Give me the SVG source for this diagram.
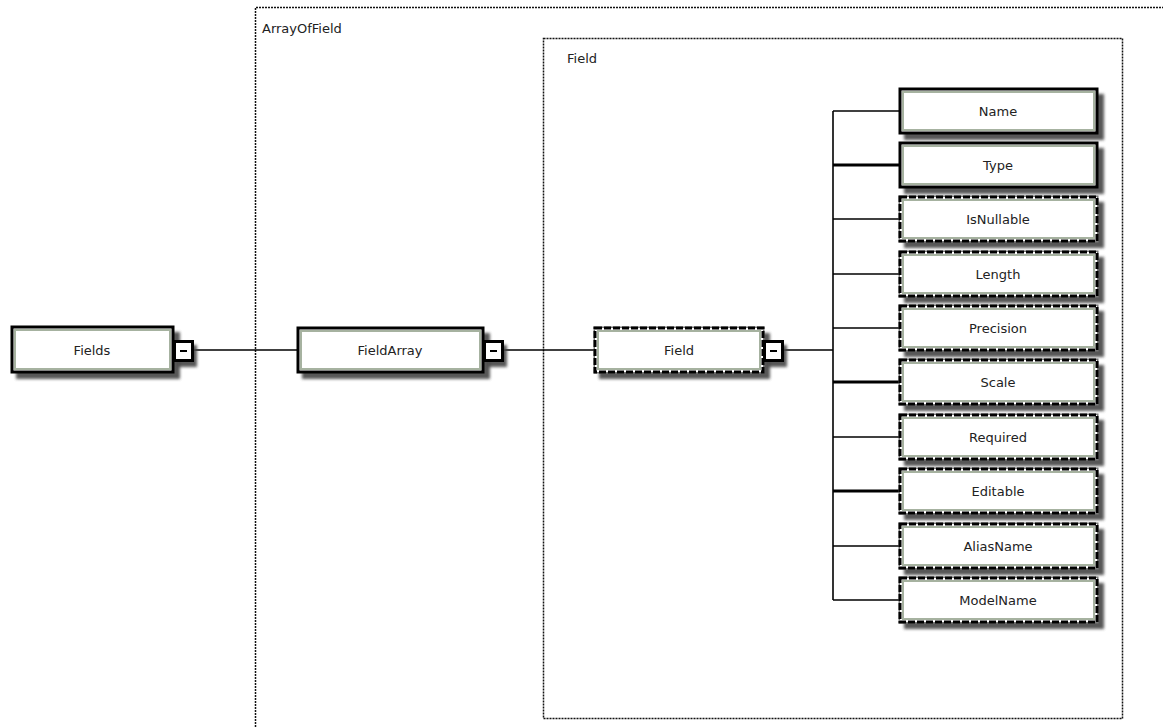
<svg xmlns="http://www.w3.org/2000/svg" width="1163" height="727" viewBox="0 0 1163 727">
  <defs>
    <filter id="sh" x="-10%" y="-20%" width="130%" height="160%">
      <feGaussianBlur stdDeviation="1.5"/>
    </filter>
    <style>
      text { font-family: "DejaVu Sans", Verdana, sans-serif; font-size: 13px; fill: #222; }
      .lbl { text-anchor: middle; }
      .shadow { fill: #444; filter: url(#sh); opacity: 0.9; }
      .box { fill: #fff; stroke: #000; stroke-width: 3; }
      .under { fill: none; stroke: #777; stroke-width: 3; }
      .dash { fill: #fff; stroke: #000; stroke-width: 3; stroke-dasharray: 7 2; }
      .bevel { fill: none; stroke: #a6b2a0; stroke-width: 2; }
      .exp { fill: #fff; stroke: #000; stroke-width: 3; }
      .con { stroke: #000; stroke-width: 1.6; fill: none; }
      .thick { stroke: #000; stroke-width: 3; fill: none; }
      .frame { fill: none; stroke: #111; stroke-width: 1.5; stroke-dasharray: 2 1; }
    </style>
  </defs>

  <g id="ArrayOfField">
    <path class="frame" d="M255.5,727 V7.5 H1163"/>
    <text x="262" y="33">ArrayOfField</text>
  </g>
  <g id="FieldGroup">
    <rect class="frame" x="543.5" y="38.5" width="579" height="680"/>
    <text x="567" y="63">Field</text>
  </g>

  <g id="connectors">
    <line class="con" x1="193" y1="350" x2="298" y2="350"/>
    <line class="con" x1="503" y1="350" x2="595" y2="350"/>
    <line class="con" x1="783" y1="350" x2="833" y2="350"/>
    <line class="con" x1="833" y1="111" x2="833" y2="600"/>
    <line class="con" x1="833" y1="111" x2="900" y2="111"/>
    <line class="thick" x1="833" y1="165" x2="900" y2="165"/>
    <line class="con" x1="833" y1="219" x2="900" y2="219"/>
    <line class="con" x1="833" y1="274" x2="900" y2="274"/>
    <line class="con" x1="833" y1="328" x2="900" y2="328"/>
    <line class="thick" x1="833" y1="382" x2="900" y2="382"/>
    <line class="con" x1="833" y1="437" x2="900" y2="437"/>
    <line class="thick" x1="833" y1="491" x2="900" y2="491"/>
    <line class="con" x1="833" y1="546" x2="900" y2="546"/>
    <line class="con" x1="833" y1="600" x2="900" y2="600"/>
  </g>

  <g id="Fields">
    <rect class="shadow" x="16" y="332" width="164" height="47"/>
    <rect class="box" x="12" y="327" width="161" height="45"/>
    <rect class="bevel" x="15" y="330" width="155" height="39"/>
    <rect class="shadow" x="177" y="345" width="20" height="22"/>
    <rect class="exp" x="174.5" y="341.5" width="18" height="19"/>
    <line x1="180" y1="351" x2="187" y2="351" stroke="#000" stroke-width="2"/>
    <text class="lbl" x="92" y="355">Fields</text>
  </g>

  <g id="FieldArray">
    <rect class="shadow" x="302" y="333" width="188" height="46"/>
    <rect class="box" x="298" y="328" width="185" height="44"/>
    <rect class="bevel" x="301" y="331" width="179" height="38"/>
    <rect class="shadow" x="487" y="345" width="20" height="22"/>
    <rect class="exp" x="484.5" y="341.5" width="18" height="19"/>
    <line x1="490" y1="351" x2="497" y2="351" stroke="#000" stroke-width="2"/>
    <text class="lbl" x="390" y="355">FieldArray</text>
  </g>

  <g id="Field">
    <rect class="shadow" x="599" y="333" width="171" height="46"/>
    <rect class="under" x="595" y="328" width="168" height="44"/>
    <rect class="dash" x="595" y="328" width="168" height="44"/>
    <rect class="bevel" x="598" y="331" width="162" height="38"/>
    <rect class="shadow" x="767" y="345" width="20" height="22"/>
    <rect class="exp" x="764.5" y="341.5" width="18" height="19"/>
    <line x1="770" y1="351" x2="777" y2="351" stroke="#000" stroke-width="2"/>
    <text class="lbl" x="679" y="355">Field</text>
  </g>

  <g id="Name">
    <rect class="shadow" x="904" y="94" width="200" height="46"/>
    <rect class="box" x="900" y="89" width="197" height="44"/>
    <rect class="bevel" x="903" y="92" width="191" height="38"/>
    <text class="lbl" x="998" y="116">Name</text>
  </g>
  <g id="Type">
    <rect class="shadow" x="904" y="148" width="200" height="46"/>
    <rect class="box" x="900" y="143" width="197" height="44"/>
    <rect class="bevel" x="903" y="146" width="191" height="38"/>
    <text class="lbl" x="998" y="170">Type</text>
  </g>
  <g id="IsNullable">
    <rect class="shadow" x="904" y="202" width="200" height="46"/>
    <rect class="under" x="900" y="197" width="197" height="44"/>
    <rect class="dash" x="900" y="197" width="197" height="44"/>
    <rect class="bevel" x="903" y="200" width="191" height="38"/>
    <text class="lbl" x="998" y="224">IsNullable</text>
  </g>
  <g id="Length">
    <rect class="shadow" x="904" y="257" width="200" height="46"/>
    <rect class="under" x="900" y="252" width="197" height="44"/>
    <rect class="dash" x="900" y="252" width="197" height="44"/>
    <rect class="bevel" x="903" y="255" width="191" height="38"/>
    <text class="lbl" x="998" y="279">Length</text>
  </g>
  <g id="Precision">
    <rect class="shadow" x="904" y="311" width="200" height="46"/>
    <rect class="under" x="900" y="306" width="197" height="44"/>
    <rect class="dash" x="900" y="306" width="197" height="44"/>
    <rect class="bevel" x="903" y="309" width="191" height="38"/>
    <text class="lbl" x="998" y="333">Precision</text>
  </g>
  <g id="Scale">
    <rect class="shadow" x="904" y="365" width="200" height="46"/>
    <rect class="under" x="900" y="360" width="197" height="44"/>
    <rect class="dash" x="900" y="360" width="197" height="44"/>
    <rect class="bevel" x="903" y="363" width="191" height="38"/>
    <text class="lbl" x="998" y="387">Scale</text>
  </g>
  <g id="Required">
    <rect class="shadow" x="904" y="420" width="200" height="46"/>
    <rect class="under" x="900" y="415" width="197" height="44"/>
    <rect class="dash" x="900" y="415" width="197" height="44"/>
    <rect class="bevel" x="903" y="418" width="191" height="38"/>
    <text class="lbl" x="998" y="442">Required</text>
  </g>
  <g id="Editable">
    <rect class="shadow" x="904" y="474" width="200" height="46"/>
    <rect class="under" x="900" y="469" width="197" height="44"/>
    <rect class="dash" x="900" y="469" width="197" height="44"/>
    <rect class="bevel" x="903" y="472" width="191" height="38"/>
    <text class="lbl" x="998" y="496">Editable</text>
  </g>
  <g id="AliasName">
    <rect class="shadow" x="904" y="529" width="200" height="46"/>
    <rect class="under" x="900" y="524" width="197" height="44"/>
    <rect class="dash" x="900" y="524" width="197" height="44"/>
    <rect class="bevel" x="903" y="527" width="191" height="38"/>
    <text class="lbl" x="998" y="551">AliasName</text>
  </g>
  <g id="ModelName">
    <rect class="shadow" x="904" y="583" width="200" height="46"/>
    <rect class="under" x="900" y="578" width="197" height="44"/>
    <rect class="dash" x="900" y="578" width="197" height="44"/>
    <rect class="bevel" x="903" y="581" width="191" height="38"/>
    <text class="lbl" x="998" y="605">ModelName</text>
  </g>
</svg>
